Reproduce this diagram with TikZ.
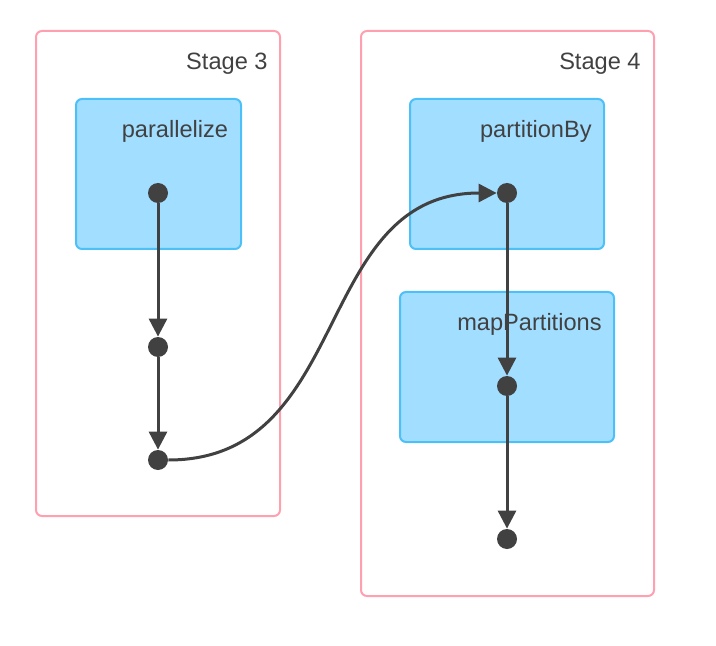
\documentclass[tikz,border=0pt]{standalone}
\usepackage{fontspec}
\setmainfont{Liberation Sans}
\usetikzlibrary{arrows.meta}

\definecolor{stagepink}{HTML}{FFA0B0}
\definecolor{opfill}{HTML}{A1DEFF}
\definecolor{opline}{HTML}{4DC1F7}
\definecolor{dotgray}{HTML}{414141}

\begin{document}
\begin{tikzpicture}[x=0.5pt, y=-0.5pt,
    stage/.style = {draw=stagepink, line width=1pt, rounded corners=3pt, inner sep=0pt},
    op/.style = {draw=opline, fill=opfill, line width=1pt, rounded corners=3pt, inner sep=0pt},
    txt/.style = {anchor=base east, inner sep=0pt, text=dotgray, font=\fontsize{11.8}{14}\selectfont},
    v/.style = {circle, fill=dotgray, minimum size=10pt, inner sep=0pt},
    e/.style = {draw=dotgray, line width=1.5pt, -{Triangle[length=9pt,width=9pt]}}]
			\useasboundingbox (0,0) rectangle (716,646);
			% stages
			\node[stage, minimum width=122pt, minimum height=242.5pt] (stage3) at (158,273.5) {};
			\node[stage, minimum width=146.5pt, minimum height=282.5pt] (stage4) at (507.5,313.5) {};
			\node[txt] (stage3 label) at (268,69.5) {Stage 3};
			\node[txt] (stage4 label) at (641,69.5) {Stage 4};
			% operations
			\node[op, minimum width=82.5pt, minimum height=75pt] (parallelize) at (158.5,174) {};
			\node[op, minimum width=97pt, minimum height=75pt] (partitionBy) at (507,174) {};
			\node[op, minimum width=107pt, minimum height=75pt] (mapPartitions) at (507,367) {};
			\node[txt] (parallelize label) at (228.5,138) {parallelize};
			\node[txt] (partitionBy label) at (592,138) {partitionBy};
			\node[txt] (mapPartitions label) at (602,330) {mapPartitions};
			% rdds
			\node[v] (a) at (158,193) {};
			\node[v] (b) at (158,347) {};
			\node[v] (c) at (158,460) {};
			\node[v] (d) at (507,193) {};
			\node[v] (f) at (507,386) {};
			\node[v] (g) at (507,539) {};
			\draw[e] (a) -- (b);
			\draw[e] (b) -- (c);
			\draw[e] (c.east) .. controls +(185,0) and +(-185,0) .. (d.west);
			\draw[e] (d) -- (f);
			\draw[e] (f) -- (g);
\end{tikzpicture}
\end{document}
